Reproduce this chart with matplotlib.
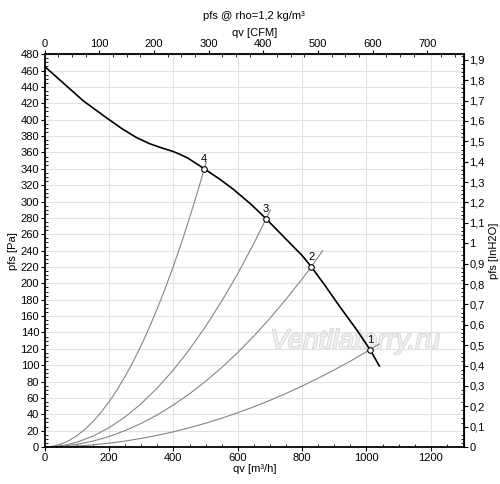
import matplotlib
matplotlib.use("Agg")
import matplotlib.pyplot as plt
from matplotlib.ticker import MultipleLocator, FuncFormatter
import matplotlib.patheffects as pe

plt.rcParams['font.family'] = ['Liberation Sans', 'DejaVu Sans']

# Fan curve (qv m3/h, pfs Pa)
fan_q = [0, 60, 120, 193, 240, 286, 327, 360, 400, 421, 445, 496, 545, 586, 640,
         688, 720, 760, 800, 828, 870, 918, 970, 1011, 1040]
fan_p = [465, 444, 423, 402, 389, 378, 370.5, 366, 361, 357.5, 353, 340, 327, 315, 297,
         279, 266, 250, 234, 220.5, 198, 171, 143, 119, 99]

# System curves
sys1_q = [0, 50, 100, 150, 200, 250, 300, 350, 400, 450, 500, 550, 600, 650, 700,
          750, 800, 850, 900, 950, 1011, 1040]
sys1_p = [0, 0.3, 1.2, 2.6, 4.7, 7.3, 10.5, 14.3, 18.6, 23.6, 29.1, 35.2, 41.9, 49.2, 57.0,
          65.5, 74.5, 84.1, 94.3, 105, 119, 126]
sys2_q = [0, 50, 100, 150, 200, 250, 300, 350, 400, 450, 500, 550, 600, 650, 700,
          750, 800, 828, 864]
sys2_p = [0, 0.8, 3.2, 7.2, 12.8, 20.1, 28.9, 39.3, 51.4, 65.0, 80.3, 97.1, 115.6, 135.6, 157.3,
          180.6, 205.4, 220, 240]
sys3_q = [0, 25, 50, 75, 100, 150, 200, 250, 300, 350, 400, 450, 500, 550, 600, 650, 688, 702]
sys3_p = [0, 0.4, 1.5, 3.3, 5.9, 13.3, 23.6, 36.8, 53.0, 72.2, 94.2, 119.3, 147.3, 178.2,
          212.0, 248.9, 279, 290]
sys4_q = [0, 25, 50, 75, 100, 125, 150, 175, 200, 225, 250, 275, 300, 325, 350, 375,
          400, 425, 450, 475, 496, 502]
sys4_p = [0, 0.9, 3.5, 7.8, 13.8, 21.6, 31.1, 42.3, 55.3, 70.0, 86.4, 104.5, 124.4, 146.0,
          169.3, 194.3, 221.1, 249.6, 279.9, 311.8, 340, 348]

# Operating points
op_labels = ['1', '2', '3', '4']
op_q = [1011, 828, 688, 496]
op_p = [119, 220, 279, 340]

fig = plt.figure(figsize=(5.0, 4.84), dpi=100)
ax = fig.add_axes([0.0894, 0.0764, 0.8386, 0.8116])
ax.set_xlim(0, 1303)
ax.set_ylim(0, 480)

ax.xaxis.set_major_locator(MultipleLocator(200))
ax.xaxis.set_minor_locator(MultipleLocator(50))
ax.yaxis.set_major_locator(MultipleLocator(20))
ax.yaxis.set_minor_locator(MultipleLocator(5))
ax.grid(True, which='major', color='#e2e2e2', lw=0.8, zorder=0)

ax.text(0.74, 0.268, 'Ventilatorry.ru', transform=ax.transAxes, fontsize=20,
        style='italic', color='#f0f0f0', ha='center', va='center', zorder=1,
        path_effects=[pe.withStroke(linewidth=1.2, foreground='#d4d4d4')])

for q, p in [(sys1_q, sys1_p), (sys2_q, sys2_p), (sys3_q, sys3_p), (sys4_q, sys4_p)]:
    ax.plot(q, p, color='#858585', lw=0.8, zorder=2)
ax.plot(fan_q, fan_p, color='black', lw=1.2, zorder=3)
ax.plot(op_q, op_p, 'o', ms=4, mfc='white', mec='black', mew=0.8, zorder=4)
for lab, q, p in zip(op_labels, op_q, op_p):
    ax.annotate(lab, (q, p), xytext=(0, 3.5), textcoords='offset points',
                ha='center', va='bottom', fontsize=8, zorder=5)

for s in ax.spines.values():
    s.set_linewidth(1.3)
    s.set_color('black')

ax.tick_params(which='major', direction='out', length=3, labelsize=8, pad=1)
ax.tick_params(which='minor', direction='in', length=2)
ax.set_xlabel('qv [m³/h]', fontsize=8, labelpad=1)
ax.set_ylabel('pfs [Pa]', fontsize=8, labelpad=2)

comma = FuncFormatter(lambda v, pos: ('%g' % round(v, 3)).replace('.', ','))

top = ax.secondary_xaxis('top', functions=(lambda q: q / 1.699, lambda c: c * 1.699))
top.xaxis.set_major_locator(MultipleLocator(100))
top.xaxis.set_minor_locator(MultipleLocator(25))
top.tick_params(which='major', direction='out', length=3, labelsize=8, pad=1)
top.tick_params(which='minor', direction='in', length=2)
top.set_xlabel('qv [CFM]', fontsize=8, labelpad=2)

right = ax.secondary_yaxis('right', functions=(lambda p: p / 249.0, lambda w: w * 249.0))
right.yaxis.set_major_locator(MultipleLocator(0.1))
right.yaxis.set_minor_locator(MultipleLocator(0.02))
right.yaxis.set_major_formatter(comma)
right.tick_params(which='major', direction='out', length=3, labelsize=8, pad=1)
right.tick_params(which='minor', direction='in', length=2)
right.set_ylabel('pfs [InH2O]', fontsize=8, labelpad=3)

fig.text(0.508, 0.966, 'pfs @ rho=1,2 kg/m³', ha='center', va='center', fontsize=8)

fig.savefig('out.png', dpi=100)
